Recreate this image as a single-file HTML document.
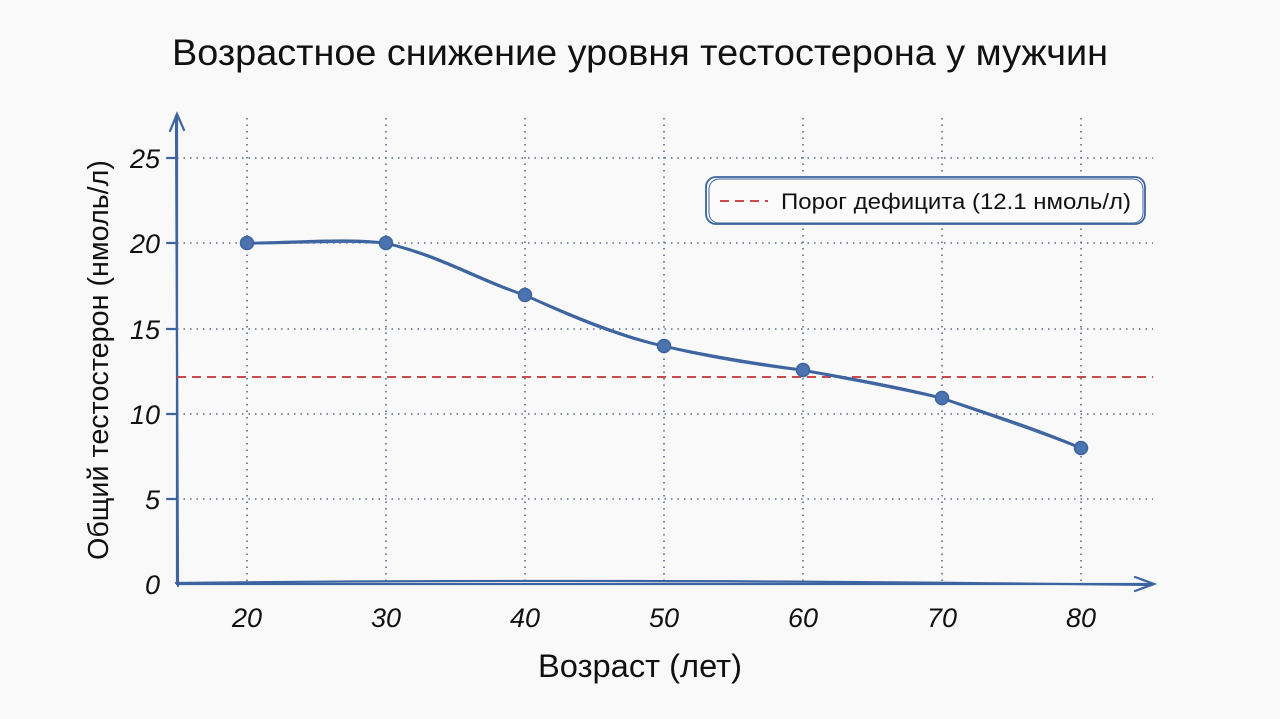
<!DOCTYPE html>
<html><head><meta charset="utf-8"><style>
html,body{margin:0;padding:0;background:#f9f9f9;}
svg text{font-family:"Liberation Sans","DejaVu Sans",sans-serif;fill:#111;}
</style></head><body>
<svg width="1280" height="714" viewBox="0 0 1280 714" xmlns="http://www.w3.org/2000/svg">
<rect width="1280" height="714" fill="#f9f9f9"/>
<text x="172" y="65" font-size="37" textLength="936" lengthAdjust="spacingAndGlyphs">Возрастное снижение уровня тестостерона у мужчин</text>
<g stroke="#5a6a8a" stroke-width="1.6" stroke-dasharray="1.5 5" fill="none">
<line x1="247" y1="118" x2="247" y2="584"/><line x1="386" y1="118" x2="386" y2="584"/>
<line x1="525" y1="118" x2="525" y2="584"/><line x1="664" y1="118" x2="664" y2="584"/>
<line x1="803" y1="118" x2="803" y2="584"/><line x1="942" y1="118" x2="942" y2="584"/>
<line x1="1081" y1="118" x2="1081" y2="584"/>
<line x1="177" y1="158" x2="1153" y2="158"/><line x1="177" y1="243" x2="1153" y2="243"/>
<line x1="177" y1="329" x2="1153" y2="329"/><line x1="177" y1="414" x2="1153" y2="414"/>
<line x1="177" y1="499" x2="1153" y2="499"/>
</g>
<g stroke="#3d64a0" stroke-width="2.2" fill="none" stroke-linecap="round">
<path d="M177 584 L177 115"/><path d="M178 586 Q176 350 176 116"/>
<path d="M170 131 L177 114 L184 130"/>
<path d="M177 584 L1153 584"/><path d="M176 583 Q600 578 1152 585"/>
<path d="M1135 577 L1154 584 L1135 591"/>
<line x1="167" y1="158" x2="177" y2="158"/><line x1="167" y1="243" x2="177" y2="243"/>
<line x1="167" y1="329" x2="177" y2="329"/><line x1="167" y1="414" x2="177" y2="414"/>
<line x1="167" y1="499" x2="177" y2="499"/>
</g>
<g font-size="27" font-style="italic" text-anchor="end">
<text x="160" y="168">25</text><text x="160" y="253">20</text><text x="160" y="339">15</text>
<text x="160" y="424">10</text><text x="160" y="509">5</text><text x="160" y="594">0</text>
</g>
<g font-size="27" font-style="italic" text-anchor="middle">
<text x="247" y="627">20</text><text x="386" y="627">30</text><text x="525" y="627">40</text>
<text x="664" y="627">50</text><text x="803" y="627">60</text><text x="942" y="627">70</text>
<text x="1081" y="627">80</text>
</g>
<text x="538" y="677" font-size="32" textLength="204" lengthAdjust="spacingAndGlyphs">Возраст (лет)</text>
<text transform="translate(108 560) rotate(-90)" font-size="29" textLength="400" lengthAdjust="spacingAndGlyphs">Общий тестостерон (нмоль/л)</text>
<path d="M177 377 L1153 377" stroke="#c84a4a" stroke-width="2" stroke-dasharray="9 6" fill="none"/>
<g stroke="#3d64a0" stroke-width="2.4" fill="none">
<path d="M247 243 C300 242 350 238 386 243 C440 255 480 280 525 295 C570 315 620 336 664 346 C710 356 760 364 803 370 C850 378 900 387 942 398 C990 414 1040 430 1081 448"/>
<path d="M247 244 C300 244 350 240 386 244 C440 257 480 282 525 296 C570 317 620 338 664 347 C710 358 760 366 803 371 C850 380 900 389 942 399 C990 416 1040 432 1081 449" stroke-width="1.2"/>
</g>
<g fill="#4a73b0" stroke="#3d64a0" stroke-width="1.5">
<circle cx="247" cy="243" r="6.5"/><circle cx="386" cy="243" r="6.5"/><circle cx="525" cy="295" r="6.5"/>
<circle cx="664" cy="346" r="6.5"/><circle cx="803" cy="370" r="6.5"/><circle cx="942" cy="398" r="6.5"/>
<circle cx="1081" cy="448" r="6.5"/>
</g>
<g stroke="#3d64a0" stroke-width="1.8" fill="#fbfbfb">
<rect x="706" y="177" width="439" height="47" rx="10"/>
<rect x="709" y="179" width="434" height="44" rx="10" fill="none" stroke-width="1"/>
</g>
<line x1="720" y1="201" x2="768" y2="201" stroke="#c84a4a" stroke-width="2" stroke-dasharray="9 6"/>
<text x="781" y="209" font-size="22" textLength="350" lengthAdjust="spacingAndGlyphs">Порог дефицита (12.1 нмоль/л)</text>
</svg>
</body></html>
